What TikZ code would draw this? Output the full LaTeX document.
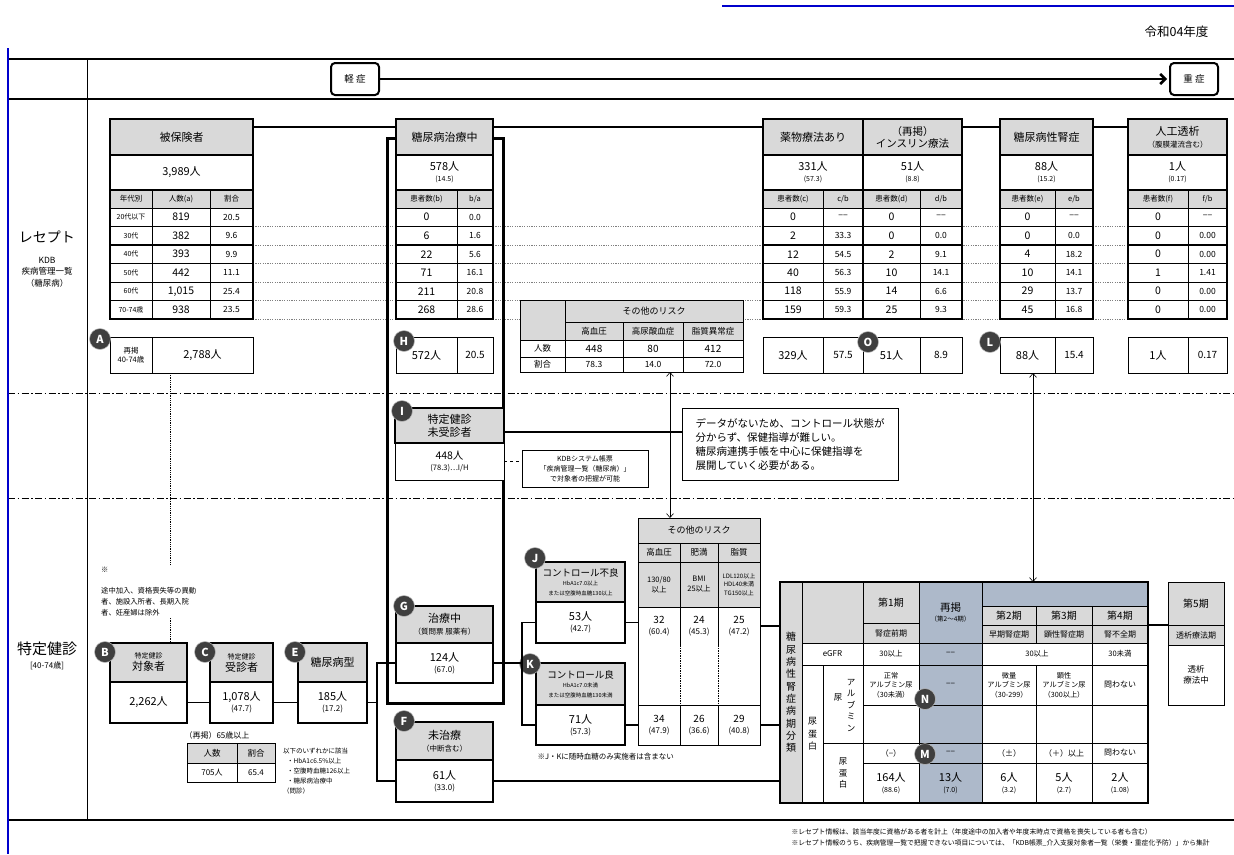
\documentclass[tikz,border=0pt]{standalone}
\usepackage{fontspec}
\setmainfont{Noto Sans CJK JP}
\usetikzlibrary{arrows.meta}
\definecolor{hdr}{HTML}{D9D9D9}
\definecolor{blu}{HTML}{ADB9CA}
\definecolor{circ}{HTML}{3F3F3F}
\definecolor{bline}{HTML}{0000CC}
\definecolor{dotc}{HTML}{7F7F7F}
\newcommand\fz[2]{\fontsize{#1}{#2}\selectfont}
\newcommand\dd{{−}{−}}
\newcommand\bx[7]{%
  \pgfmathsetmacro\bxw{#4-(#2)}%
  \pgfmathsetmacro\bxh{#5-(#3)}%
  \node[align=center,#6,minimum width=\bxw pt,minimum height=\bxh pt,inner sep=0pt,outer sep=0pt,anchor=north west] (#1) at (#2,#3) {#7};}
\newcommand\rrows[4]{%
  \foreach \va/\vb [count=\i] in {#4} {%
    \pgfmathsetmacro\ya{208+(\i-1)*18.5}%
    \pgfmathsetmacro\yb{208+\i*18.5}%
    \bx{r#1a\i}{#1}{\ya}{#2}{\yb}{cw,font=\fz{10.5}{10.5}}{\va}%
    \bx{r#1b\i}{#2}{\ya}{#3}{\yb}{cw,font=\fz{8.5}{8.5}}{\vb}%
  }%
  \draw[tk] (#1,245) rectangle (#3,319);%
}
\begin{document}
\begin{tikzpicture}[x=1pt,y=-1pt,
 cw/.style={draw,line width=0.6pt,fill=white},
 cg/.style={draw,line width=0.6pt,fill=hdr},
 cb/.style={draw,line width=0.6pt,fill=blu},
 hb/.style={draw,line width=1.8pt,fill=hdr},
 tk/.style={line width=1.8pt},
 conn/.style={line width=1.8pt},
 dotrow/.style={dotc,line width=0.8pt,dash pattern=on 1.2pt off 1.2pt},
 ddash/.style={line width=0.7pt,dash pattern=on 7pt off 2.5pt on 1.5pt off 2.5pt},
 lbl/.style={circle,draw=gray!50,line width=0.5pt,fill=circ,text=white,inner sep=0pt,minimum size=21pt,font=\fz{11}{11}\bfseries},
 arr/.style={line width=0.6pt,{Straight Barb[length=4pt,width=7pt]}-{Straight Barb[length=4pt,width=7pt]}},
]
\useasboundingbox (0,0) rectangle (1234,854);
\fill[white] (0,0) rectangle (1234,854);

% ---------- page furniture ----------
\draw[bline,line width=2pt] (722,6) -- (1234,6);
\node[anchor=east,font=\fz{12.5}{12.5}] (year) at (1212,32) {令和04年度};
\draw[line width=1.2pt] (8,59) -- (1234,59);
\draw[line width=1.2pt] (8,99) -- (1234,99);
\draw[line width=0.8pt] (87,59) -- (87,820);
\draw[ddash] (8,393) -- (1234,393);
\draw[ddash] (8,498) -- (1234,498);
\draw[line width=1.2pt] (8,820) -- (1234,820);
\draw[bline,line width=1.5pt] (8,48) -- (8,854);

% severity
\bx{mild}{331}{63}{379}{95}{draw,line width=2pt,rounded corners=4pt,fill=white,font=\fz{9.5}{10}}{軽 症}
\bx{sev}{1170}{63}{1218}{95}{draw,line width=2pt,rounded corners=4pt,fill=white,font=\fz{9.5}{10}}{重 症}
\draw[line width=2.5pt,-{Straight Barb[length=5pt,width=10pt]}] (mild.east) -- ([xshift=-3pt]sev.west);

% left labels
\node[font=\fz{14}{14}] (lrec) at (47,237) {レセプト};
\node[font=\fz{8.5}{11.5},align=center] (lkdb) at (47,272) {KDB\\疾病管理一覧\\（糖尿病）};
\node[font=\fz{15}{15}] (lken) at (47,649) {特定健診};
\node[font=\fz{8}{8}] (lken2) at (47,666) {[40-74歳]};

% dotted row lines
\foreach \y in {226.5,245,263.5,282,300.5,319} \draw[dotrow] (253,\y) -- (1128,\y);

% treatment frame
\draw[line width=3pt] (387,138) rectangle (503,703);

% ---------- table 1 ----------
\bx{t1h}{110}{119}{253}{155}{hb,font=\fz{11}{11}}{被保険者}
\bx{t1n}{110}{155}{253}{190}{cw,line width=1.2pt,font=\fz{11}{11}}{3,989人}
\bx{t1c1}{110}{190}{152}{208}{cg,font=\fz{7.5}{7.5}}{年代別}
\bx{t1c2}{152}{190}{210}{208}{cg,font=\fz{7.5}{7.5}}{人数(a)}
\bx{t1c3}{210}{190}{253}{208}{cg,font=\fz{7.5}{7.5}}{割合}
\foreach \lab/\va/\vb [count=\i] in {20代以下/819/20.5,30代/382/9.6,40代/393/9.9,50代/442/11.1,60代/{1,015}/25.4,70-74歳/938/23.5}{%
  \pgfmathsetmacro\ya{208+(\i-1)*18.5}%
  \pgfmathsetmacro\yb{208+\i*18.5}%
  \bx{t1l\i}{110}{\ya}{152}{\yb}{cw,font=\fz{7}{7}}{\lab}%
  \bx{t1a\i}{152}{\ya}{210}{\yb}{cw,font=\fz{10.5}{10.5}}{\va}%
  \bx{t1b\i}{210}{\ya}{253}{\yb}{cw,font=\fz{8.5}{8.5}}{\vb}%
}
\draw[tk] (110,245) rectangle (253,319);
\draw[line width=1.2pt] (110,155) rectangle (253,319);

% ---------- table 2 ----------
\bx{t2h}{396}{119}{493}{155}{hb,font=\fz{11}{11}}{糖尿病治療中}
\bx{t2n}{396}{155}{493}{190}{cw,line width=1.2pt,font=\fz{11}{11}}{578人\\{\fz{7}{9}(14.5)}}
\bx{t2c1}{396}{190}{457}{208}{cg,font=\fz{7.5}{7.5}}{患者数(b)}
\bx{t2c2}{457}{190}{493}{208}{cg,font=\fz{7.5}{7.5}}{b/a}
\rrows{396}{457}{493}{0/0.0,6/1.6,22/5.6,71/16.1,211/20.8,268/28.6}
\draw[line width=1.2pt] (396,155) rectangle (493,319);

% ---------- table 3 / 4 ----------
\bx{t3h}{763}{119}{863}{155}{hb,font=\fz{11}{11}}{薬物療法あり}
\bx{t4h}{863}{119}{962}{155}{hb,font=\fz{10.5}{12}}{（再掲）\\インスリン療法}
\bx{t3n}{763}{155}{863}{190}{cw,line width=1.2pt,font=\fz{11}{11}}{331人\\{\fz{7}{9}(57.3)}}
\bx{t4n}{863}{155}{962}{190}{cw,line width=1.2pt,font=\fz{11}{11}}{51人\\{\fz{7}{9}(8.8)}}
\bx{t3c1}{763}{190}{823}{208}{cg,font=\fz{7.5}{7.5}}{患者数(c)}
\bx{t3c2}{823}{190}{863}{208}{cg,font=\fz{7.5}{7.5}}{c/b}
\bx{t4c1}{863}{190}{920}{208}{cg,font=\fz{7.5}{7.5}}{患者数(d)}
\bx{t4c2}{920}{190}{962}{208}{cg,font=\fz{7.5}{7.5}}{d/b}
\rrows{763}{823}{863}{0/\dd,2/33.3,12/54.5,40/56.3,118/55.9,159/59.3}
\rrows{863}{920}{962}{0/\dd,0/0.0,2/9.1,10/14.1,14/6.6,25/9.3}
\draw[line width=1.2pt] (763,155) rectangle (962,319);
\draw[tk] (863,155) -- (863,319);

% ---------- table 5 ----------
\bx{t5h}{1000}{119}{1093}{155}{hb,font=\fz{11}{11}}{糖尿病性腎症}
\bx{t5n}{1000}{155}{1093}{190}{cw,line width=1.2pt,font=\fz{11}{11}}{88人\\{\fz{7}{9}(15.2)}}
\bx{t5c1}{1000}{190}{1055}{208}{cg,font=\fz{7.5}{7.5}}{患者数(e)}
\bx{t5c2}{1055}{190}{1093}{208}{cg,font=\fz{7.5}{7.5}}{e/b}
\rrows{1000}{1055}{1093}{0/\dd,0/0.0,4/18.2,10/14.1,29/13.7,45/16.8}
\draw[line width=1.2pt] (1000,155) rectangle (1093,319);

% ---------- table 6 ----------
\bx{t6h}{1128}{119}{1227}{155}{hb,font=\fz{11}{12}}{人工透析\\{\fz{7.5}{9}（腹膜灌流含む）}}
\bx{t6n}{1128}{155}{1227}{190}{cw,line width=1.2pt,font=\fz{11}{11}}{1人\\{\fz{7}{9}(0.17)}}
\bx{t6c1}{1128}{190}{1188}{208}{cg,font=\fz{7.5}{7.5}}{患者数(f)}
\bx{t6c2}{1188}{190}{1227}{208}{cg,font=\fz{7.5}{7.5}}{f/b}
\rrows{1128}{1188}{1227}{0/\dd,0/0.00,0/0.00,1/1.41,0/0.00,0/0.00}
\draw[line width=1.2pt] (1128,155) rectangle (1227,319);

% top connectors
\draw[conn] ([yshift=10pt]t1h.east) -- ([yshift=10pt]t2h.west);
\draw[conn] ([yshift=10pt]t2h.east) -- ([yshift=10pt]t3h.west);
\draw[conn] ([yshift=10pt]t4h.east) -- ([yshift=10pt]t5h.west);
\draw[conn] ([yshift=10pt]t5h.east) -- ([yshift=10pt]t6h.west);

% ---------- second-row boxes ----------
\bx{Aa}{110}{337}{152}{373}{cw,line width=0.8pt,font=\fz{7.5}{9.5}}{再掲\\40-74歳}
\bx{Ab}{152}{337}{253}{373}{cw,line width=0.8pt,font=\fz{11}{11}}{2,788人}
\bx{Ha}{396}{337}{457}{373}{cw,line width=0.8pt,font=\fz{11}{11}}{572人}
\bx{Hb}{457}{337}{493}{373}{cw,line width=0.8pt,font=\fz{10}{10}}{20.5}
\bx{Oa}{763}{337}{823}{373}{cw,line width=0.8pt,font=\fz{11}{11}}{329人}
\bx{Ob}{823}{337}{863}{373}{cw,line width=0.8pt,font=\fz{10}{10}}{57.5}
\bx{Oc}{863}{337}{920}{373}{cw,line width=0.8pt,font=\fz{11}{11}}{51人}
\bx{Od}{920}{337}{962}{373}{cw,line width=0.8pt,font=\fz{10}{10}}{8.9}
\bx{La}{1000}{337}{1055}{373}{cw,line width=0.8pt,font=\fz{11}{11}}{88人}
\bx{Lb}{1055}{337}{1093}{373}{cw,line width=0.8pt,font=\fz{10}{10}}{15.4}
\bx{Pa}{1128}{337}{1188}{373}{cw,line width=0.8pt,font=\fz{11}{11}}{1人}
\bx{Pb}{1188}{337}{1227}{373}{cw,line width=0.8pt,font=\fz{10}{10}}{0.17}
\node[lbl] (cA) at (100,339) {A};
\node[lbl] (cH) at (404,341) {H};
\node[lbl] (cO) at (868,342) {O};
\node[lbl] (cL) at (990,342) {L};

% ---------- middle risk table ----------
\bx{mr0}{520}{300}{565}{340}{cg}{}
\bx{mrh}{565}{300}{743}{322}{cg,font=\fz{9}{9}}{その他のリスク}
\bx{mr1}{565}{322}{623}{340}{cg,font=\fz{8.5}{8.5}}{高血圧}
\bx{mr2}{623}{322}{683}{340}{cg,font=\fz{8.5}{8.5}}{高尿酸血症}
\bx{mr3}{683}{322}{743}{340}{cg,font=\fz{8.5}{8.5}}{脂質異常症}
\bx{mn0}{520}{340}{565}{357}{cw,font=\fz{8.5}{8.5}}{人数}
\bx{mn1}{565}{340}{623}{357}{cw,font=\fz{10}{10}}{448}
\bx{mn2}{623}{340}{683}{357}{cw,font=\fz{10}{10}}{80}
\bx{mn3}{683}{340}{743}{357}{cw,font=\fz{10}{10}}{412}
\bx{ma0}{520}{357}{565}{372}{cw,font=\fz{8.5}{8.5}}{割合}
\bx{ma1}{565}{357}{623}{372}{cw,font=\fz{8.5}{8.5}}{78.3}
\bx{ma2}{623}{357}{683}{372}{cw,font=\fz{8.5}{8.5}}{14.0}
\bx{ma3}{683}{357}{743}{372}{cw,font=\fz{8.5}{8.5}}{72.0}

% ---------- I section ----------
\bx{Ih}{395}{408}{504}{443}{hb,font=\fz{11}{13}}{特定健診\\未受診者}
\bx{Iv}{395}{443}{504}{480}{cw,line width=1pt,font=\fz{10.5}{11}}{448人\\{\fz{7.5}{9}(78.3)…I/H}}
\node[lbl] (cI) at (402,411) {I};
\bx{kdb}{522}{450}{648}{487}{draw,line width=0.8pt,fill=white,font=\fz{7}{10}}{KDBシステム帳票\\「疾病管理一覧（糖尿病）」\\で対象者の把握が可能}
\draw[dashed,line width=0.8pt] (Iv.east) -- (Iv.east -| kdb.west);
\bx{txt}{682}{408}{898}{480}{draw,line width=0.8pt,fill=white,font=\fz{10.5}{14},align=left}{データがないため、コントロール状態が\\分からず、保健指導が難しい。\\糖尿病連携手帳を中心に保健指導を\\展開していく必要がある。}
\draw[conn] ([yshift=-6.5pt]Ih.east) -- ([yshift=-6.5pt]Ih.east -| txt.west);

% ---------- bottom risk table ----------
\bx{brh}{638}{518}{760}{543}{cg,font=\fz{9}{9}}{その他のリスク}
\bx{bh1}{638}{543}{680}{562}{cg,font=\fz{8.5}{8.5}}{高血圧}
\bx{bh2}{680}{543}{718}{562}{cg,font=\fz{8.5}{8.5}}{肥満}
\bx{bh3}{718}{543}{760}{562}{cg,font=\fz{8.5}{8.5}}{脂質}
\bx{bc1}{638}{562}{680}{607}{cg,font=\fz{7.5}{10}}{130/80\\以上}
\bx{bc2}{680}{562}{718}{607}{cg,font=\fz{7.5}{10}}{BMI\\25以上}
\bx{bc3}{718}{562}{760}{607}{cg,font=\fz{6}{8.5}}{LDL120以上\\HDL40未満\\TG150以上}
\bx{bj1}{638}{607}{680}{645}{cw,font=\fz{10}{11}}{32\\{\fz{8}{10}(60.4)}}
\bx{bj2}{680}{607}{718}{645}{cw,font=\fz{10}{11}}{24\\{\fz{8}{10}(45.3)}}
\bx{bj3}{718}{607}{760}{645}{cw,font=\fz{10}{11}}{25\\{\fz{8}{10}(47.2)}}
\bx{be}{638}{645}{760}{705}{fill=white}{}
\draw[line width=0.6pt,dash pattern=on 1.5pt off 1pt] (be.north west) -- (be.south west) (680,645) -- (680,705) (718,645) -- (718,705) (be.north east) -- (be.south east);
\bx{bk1}{638}{705}{680}{745}{cw,font=\fz{10}{11}}{34\\{\fz{8}{10}(47.9)}}
\bx{bk2}{680}{705}{718}{745}{cw,font=\fz{10}{11}}{26\\{\fz{8}{10}(36.6)}}
\bx{bk3}{718}{705}{760}{745}{cw,font=\fz{10}{11}}{29\\{\fz{8}{10}(40.8)}}
\draw[line width=0.8pt] (brh.north west) rectangle (bk3.south east);

\coordinate (mar) at ([xshift=47pt]ma2.south west);
\draw[arr] (mar) -- (mar |- brh.north);

% ---------- kenshin chain ----------
\draw[line width=0.9pt,dash pattern=on 1pt off 0.8pt] ([xshift=18pt]Ab.south west) -- ([xshift=18pt]Ab.south west |- 0,643);
\node[anchor=north west,font=\fz{7.3}{11},align=left,fill=white,inner sep=1pt] (note1) at (100,566) {※\\[10pt]途中加入、資格喪失等の異動\\者、施設入所者、長期入院\\者、妊産婦は除外};

\bx{Bh}{110}{643}{187}{682}{hb,font=\fz{11}{12}}{{\fz{7}{9}特定健診}\\対象者}
\bx{Bv}{110}{682}{187}{723}{cw,line width=1.5pt,font=\fz{11}{11}}{2,262人}
\bx{Ch}{210}{643}{273}{682}{hb,font=\fz{11}{12}}{{\fz{7}{9}特定健診}\\受診者}
\bx{Cv}{210}{682}{273}{723}{cw,line width=1.5pt,font=\fz{11}{11}}{1,078人\\{\fz{8}{10}(47.7)}}
\bx{Eh}{298}{643}{367}{682}{hb,font=\fz{11}{11}}{糖尿病型}
\bx{Ev}{298}{682}{367}{723}{cw,line width=1.5pt,font=\fz{11}{11}}{185人\\{\fz{8}{10}(17.2)}}
\node[lbl] (cB) at (105,652) {B};
\node[lbl] (cC) at (205,652) {C};
\node[lbl] (cE) at (295,652) {E};
\draw[conn] (Bv.east) -- (Cv.west);
\draw[conn] (Cv.east) -- (Ev.west);

\node[anchor=west,font=\fz{8}{8}] (r65) at (181,735) {（再掲）65歳以上};
\bx{t65a}{187}{743}{237}{763}{cg,font=\fz{8.5}{8.5}}{人数}
\bx{t65b}{237}{743}{275}{763}{cg,font=\fz{8.5}{8.5}}{割合}
\bx{t65c}{187}{763}{237}{782}{cw,font=\fz{8}{8}}{705人}
\bx{t65d}{237}{763}{275}{782}{cw,font=\fz{8}{8}}{65.4}
\draw[line width=1pt] (t65a.north west) rectangle (t65d.south east);
\node[anchor=north west,font=\fz{6.5}{10},align=left,inner sep=0pt] (crit) at (283,748) {以下のいずれかに該当\\\hspace*{4pt}・HbA1c6.5\%以上\\\hspace*{4pt}・空腹時血糖126以上\\\hspace*{4pt}・糖尿病治療中\\（問診）};

% G and F
\bx{Gh}{396}{606}{493}{643}{hb,font=\fz{11}{12}}{治療中\\{\fz{7.5}{9}（質問票 服薬有）}}
\bx{Gv}{396}{643}{493}{683}{cw,line width=1.5pt,font=\fz{11}{11}}{124人\\{\fz{8}{10}(67.0)}}
\bx{Fh}{396}{722}{493}{760}{hb,font=\fz{11}{12}}{未治療\\{\fz{7.5}{9}（中断含む）}}
\bx{Fv}{396}{760}{493}{802}{cw,line width=1.5pt,font=\fz{11}{11}}{61人\\{\fz{8}{10}(33.0)}}
\node[lbl] (cG) at (404,606) {G};
\node[lbl] (cF) at (404,721) {F};
\coordinate (bxa) at (377,0);
\draw[conn] (Ev.east) -- (Ev.east -| bxa);
\draw[conn] (Gv.west) -| (bxa |- Fv.west) -- (Fv.west);

% J and K
\bx{Jh}{536}{562}{625}{602}{hb,font=\fz{9.5}{9.5}}{コントロール不良\\{\fz{5.5}{8}HbA1c7.0以上}\\{\fz{5.5}{8}または空腹時血糖130以上}}
\bx{Jv}{536}{602}{625}{643}{cw,line width=1.5pt,font=\fz{11}{11}}{53人\\{\fz{8}{10}(42.7)}}
\bx{Kh}{536}{663}{625}{705}{hb,font=\fz{9.5}{9.5}}{コントロール良\\{\fz{5.5}{8}HbA1c7.0未満}\\{\fz{5.5}{8}または空腹時血糖130未満}}
\bx{Kv}{536}{705}{625}{745}{cw,line width=1.5pt,font=\fz{11}{11}}{71人\\{\fz{8}{10}(57.3)}}
\node[lbl] (cJ) at (535,558) {J};
\node[lbl] (cK) at (530,664) {K};
\node[anchor=west,font=\fz{7.5}{7.5}] (noteJK) at (534,757) {※J・Kに随時血糖のみ実施者は含まない};
\coordinate (bxb) at (522,0);
\draw[conn] (Gv.east) -- (Gv.east -| bxb);
\draw[conn] (Jv.west) -| (bxb |- Kv.west) -- (Kv.west);
\draw[conn] (Jv.east) -- (Jv.east -| bj1.west);
\draw[conn] (Kv.east) -- (Kv.east -| bk1.west);

% ---------- stage table ----------
\bx{stg}{780}{582}{1148}{803}{}{}
\bx{s0}{780}{582}{802}{803}{cg,font=\fz{10}{12.3}}{糖\\尿\\病\\性\\腎\\症\\病\\期\\分\\類}
\bx{s1}{802}{582}{863}{643}{cg}{}
\bx{s2}{863}{582}{919}{623}{cg,font=\fz{10}{10}}{第1期}
\bx{s3}{863}{623}{919}{643}{cg,font=\fz{8}{8}}{腎症前期}
\bx{s4}{919}{582}{982}{643}{cb,font=\fz{10.5}{10}}{再掲\\{\fz{6.5}{8}（第2〜4期）}}
\bx{s5}{982}{582}{1148}{606}{cb}{}
\bx{s6}{982}{606}{1036}{625}{cg,font=\fz{10}{10}}{第2期}
\bx{s7}{1036}{606}{1092}{625}{cg,font=\fz{10}{10}}{第3期}
\bx{s8}{1092}{606}{1148}{625}{cg,font=\fz{10}{10}}{第4期}
\bx{s9}{982}{625}{1036}{643}{cg,font=\fz{8}{8}}{早期腎症期}
\bx{s10}{1036}{625}{1092}{643}{cg,font=\fz{8}{8}}{顕性腎症期}
\bx{s11}{1092}{625}{1148}{643}{cg,font=\fz{8}{8}}{腎不全期}
\bx{s12}{802}{643}{863}{665}{cw,font=\fz{8}{8}}{eGFR}
\bx{s13}{863}{643}{919}{665}{cw,font=\fz{7.5}{8}}{30以上}
\bx{s14}{919}{643}{982}{665}{cb,font=\fz{8}{8}}{\dd}
\bx{s15}{982}{643}{1092}{665}{cw,font=\fz{7.5}{8}}{30以上}
\bx{s16}{1092}{643}{1148}{665}{cw,font=\fz{7.5}{8}}{30未満}
\bx{s17}{802}{665}{823}{803}{cw,font=\fz{9}{12.5}}{尿\\蛋\\白}
\bx{s18}{823}{665}{863}{743}{cw}{}
\node[font=\fz{8.5}{11.5},align=center] (alb) at (851,705) {ア\\ル\\ブ\\ミ\\ン};
\node[font=\fz{8.5}{8.5}] (albn) at (838,697) {尿};
\bx{s19}{823}{743}{863}{803}{cw,font=\fz{8.5}{11.5}}{尿\\蛋\\白}
\bx{s20}{863}{665}{919}{705}{cw,font=\fz{7.2}{9.5}}{正常\\アルブミン尿\\（30未満）}
\bx{s21}{919}{665}{982}{705}{cb,font=\fz{8}{8}}{\dd}
\bx{s22}{982}{665}{1036}{705}{cw,font=\fz{7.2}{9.5}}{微量\\アルブミン尿\\（30-299）}
\bx{s23}{1036}{665}{1092}{705}{cw,font=\fz{7.2}{9.5}}{顕性\\アルブミン尿\\（300以上）}
\bx{s24}{1092}{665}{1148}{705}{cw,font=\fz{8}{8}}{問わない}
\bx{s25}{863}{705}{919}{743}{cw}{}
\bx{s26}{919}{705}{982}{743}{cb}{}
\bx{s27}{982}{705}{1036}{743}{cw}{}
\bx{s28}{1036}{705}{1092}{743}{cw}{}
\bx{s29}{1092}{705}{1148}{743}{cw}{}
\bx{s30}{863}{743}{919}{763}{cw,font=\fz{8}{8}}{（−）}
\bx{s31}{919}{743}{982}{763}{cb,font=\fz{8}{8}}{\dd}
\bx{s32}{982}{743}{1036}{763}{cw,font=\fz{8}{8}}{（±）}
\bx{s33}{1036}{743}{1092}{763}{cw,font=\fz{8}{8}}{（＋）以上}
\bx{s34}{1092}{743}{1148}{763}{cw,font=\fz{8}{8}}{問わない}
\bx{s35}{863}{763}{919}{803}{cw,font=\fz{11}{11}}{164人\\{\fz{7}{9}(88.6)}}
\bx{s36}{919}{763}{982}{803}{cb,font=\fz{11}{11}}{13人\\{\fz{7}{9}(7.0)}}
\bx{s37}{982}{763}{1036}{803}{cw,font=\fz{11}{11}}{6人\\{\fz{7}{9}(3.2)}}
\bx{s38}{1036}{763}{1092}{803}{cw,font=\fz{11}{11}}{5人\\{\fz{7}{9}(2.7)}}
\bx{s39}{1092}{763}{1148}{803}{cw,font=\fz{11}{11}}{2人\\{\fz{7}{9}(1.08)}}
\draw[line width=1.3pt] (stg.north west) rectangle (stg.south east);
\node[lbl] (cN) at (925,699) {N};
\node[lbl] (cM) at (925,754) {M};

\bx{s5h}{1168}{582}{1224}{625}{cg,line width=1pt,font=\fz{10}{10}}{第5期}
\bx{s5a}{1168}{625}{1224}{645}{cg,line width=1pt,font=\fz{8}{8}}{透析療法期}
\bx{s5b}{1168}{645}{1224}{705}{cw,line width=1pt,font=\fz{8.5}{11}}{透析\\療法中}
\draw[conn] (s11.north east) -- (s11.north east -| s5a.west);

\draw[conn] (bj3.east) -- (bj3.east -| stg.west);
\draw[conn] (bk3.east) -- (bk3.east -| stg.west);
\draw[conn] (Fv.east) -- (Fv.east -| stg.west);

\coordinate (lar) at ([xshift=33pt]La.south west);
\draw[arr] (lar) -- (lar |- stg.north);

% footer
\node[anchor=west,font=\fz{6.8}{6.8}] (f1) at (788,832) {※レセプト情報は、該当年度に資格がある者を計上（年度途中の加入者や年度末時点で資格を喪失している者も含む）};
\node[anchor=west,font=\fz{6.8}{6.8}] (f2) at (788,843) {※レセプト情報のうち、疾病管理一覧で把握できない項目については、「KDB帳票\_介入支援対象者一覧（栄養・重症化予防）」から集計};
\end{tikzpicture}
\end{document}
